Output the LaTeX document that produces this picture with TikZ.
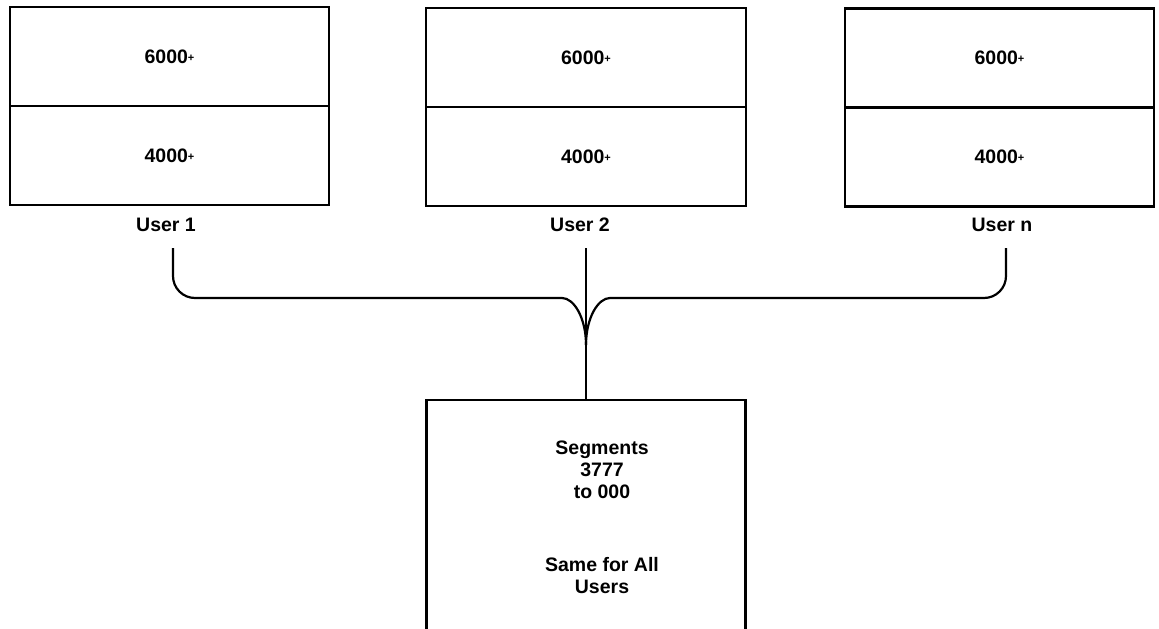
\documentclass[tikz,border=0pt]{standalone}
\usepackage{fontspec}
\setmainfont{Liberation Sans}
\usetikzlibrary{positioning}

\newcommand{\plussign}{\raisebox{0.2ex}{\fontsize{11}{11}\selectfont +}}

\begin{document}
\begin{tikzpicture}[
  x=1pt, y=-1pt,
  font=\fontsize{19.5}{22}\selectfont\bfseries,
  cell/.style={draw, line width=2.2pt, outer sep=0pt, minimum height=99pt, align=center},
  tag/.style={inner sep=2pt},
  link/.style={line width=2.2pt}
]
\useasboundingbox (0,0) rectangle (1159,629);
\clip (0,0) rectangle (1159,629);

% user areas
\node[cell, minimum width=319pt] (hi1) at (169.5,56.5) {6000\plussign};
\node[cell, minimum width=319pt, below=0pt of hi1] (lo1) {4000\plussign};
\node[cell, minimum width=320pt] (hi2) at (586,57.5) {6000\plussign};
\node[cell, minimum width=320pt, below=0pt of hi2] (lo2) {4000\plussign};
\node[cell, minimum width=309pt] (hi3) at (999.5,58) {6000\plussign};
\node[cell, minimum width=309pt, below=0pt of hi3] (lo3) {4000\plussign};

\node[tag] (user1) at (166,225) {User 1};
\node[tag] (user2) at (580,225) {User 2};
\node[tag] (usern) at (1002,225) {User n};

% shared segments
\node[cell, minimum width=319pt, minimum height=320pt, anchor=north] (shared) at (586,400) {};
\node[tag, align=center] (segs) at (602,470) {Segments\\3777\\to 000};
\node[tag, align=center] (same) at (602,576) {Same for All\\Users};

% connectors
\coordinate (drop1) at (173,248);
\coordinate (drop2) at (586,248);
\coordinate (dropn) at (1006,248);
\coordinate (join) at (586,345);

\draw[link, rounded corners=22pt] (drop1) -- (173,298) -- (540,298)
  .. controls (574,298) and (586,318) .. (join);
\draw[link, rounded corners=22pt] (dropn) -- (1006,298) -- (632,298)
  .. controls (598,298) and (586,318) .. (join);
\draw[link] (drop2) -- (shared.north);
\end{tikzpicture}
\end{document}
